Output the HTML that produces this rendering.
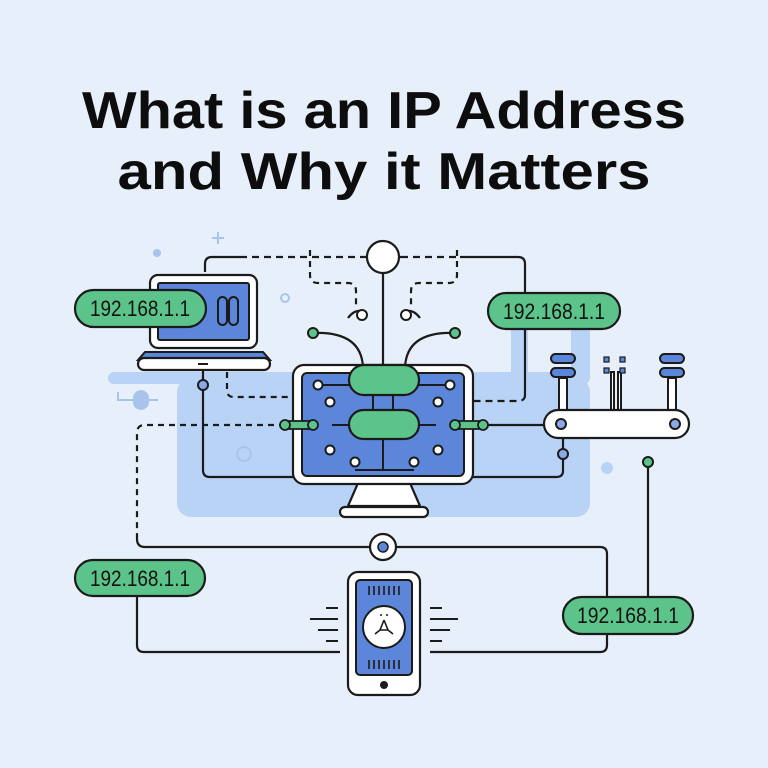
<!DOCTYPE html>
<html><head><meta charset="utf-8"><style>
html,body{margin:0;padding:0;background:#e7f0fa}
svg{display:block}
text{font-family:"Liberation Sans",sans-serif}
</style></head><body>
<svg width="768" height="768" viewBox="0 0 768 768" xmlns="http://www.w3.org/2000/svg">
<rect width="768" height="768" fill="#e7f0fa"/>
<text x="384" y="128" text-anchor="middle" font-size="52" font-weight="bold" fill="#0d0d0d" textLength="604" lengthAdjust="spacingAndGlyphs">What is an IP Address</text>
<text x="384" y="189" text-anchor="middle" font-size="52" font-weight="bold" fill="#0d0d0d" textLength="533" lengthAdjust="spacingAndGlyphs">and Why it Matters</text>

<!-- light blue background shapes -->
<rect x="108" y="372" width="482" height="12" rx="6" fill="#b9d3f6"/>
<rect x="177" y="378" width="413" height="139" rx="14" fill="#b9d3f6"/>
<rect x="511" y="330" width="17" height="48" fill="#b9d3f6"/>
<rect x="571" y="330" width="19" height="48" fill="#b9d3f6"/>
<circle cx="607" cy="468" r="6" fill="#b9d3f6"/>
<circle cx="157" cy="253" r="4" fill="#a9c4ec"/>
<circle cx="285" cy="298" r="4" fill="none" stroke="#a9c4ec" stroke-width="2"/>
<path d="M218 232v12M212 238h12" stroke="#a9c4ec" stroke-width="2"/>
<rect x="133" y="390" width="16" height="20" rx="8" fill="#a9c4ec"/>
<path d="M118 392v8h40" stroke="#a9c4ec" stroke-width="2" fill="none"/>
<circle cx="244" cy="454" r="7" fill="none" stroke="#a9c4ec" stroke-width="2"/>

<g fill="none" stroke="#1b1b1b" stroke-width="2.2">
<!-- top line -->
<path d="M205 272v-8q0-7 7-7h28"/>
<path d="M240 257h125" stroke-dasharray="7 5"/>
<path d="M365 257h36"/>
<path d="M401 257h59" stroke-dasharray="7 5"/>
<path d="M460 257h58q7 0 7 7v131"/>
<path d="M525 395q0 6-7 6h-46" stroke-dasharray="7 5"/>
<!-- dashed loops -->
<path d="M310 250v25q0 8 8 8h30q8 0 8 8v14" stroke-dasharray="6 5"/>
<path d="M457 250v25q0 8-8 8h-30q-8 0-8 8v14" stroke-dasharray="6 5"/>
<path d="M348 318q7-10 17-6M420 318q-7-10-17-6"/>
<!-- center vertical -->
<path d="M383 273v92"/>
<path d="M313 333q48-2 50 34M455 333q-48-2-50 34"/>
<!-- laptop lines -->
<path d="M203 370v100q0 7 7 7h85"/>
<path d="M227 372v18q0 7 7 7h56" stroke-dasharray="6 5"/>
<path d="M285 425h-140q-8 0-8 8v102" stroke-dasharray="6 5"/>
<path d="M137 535v4q0 8 8 8h225M396 547h204q7 0 7 7v91q0 7-7 7h-170"/>
<path d="M137 595v50q0 7 7 7h196"/>
<!-- router lines -->
<path d="M483 425h61"/>
<path d="M563 438v33q0 6-7 6h-83"/>
<path d="M648 462v135"/>
</g>

<!-- laptop -->
<rect x="150" y="275" width="107" height="73" rx="8" fill="#fff" stroke="#1b1b1b" stroke-width="2.2"/>
<rect x="158" y="283" width="91" height="57" rx="2" fill="#5b86d9" stroke="#1b1b1b" stroke-width="2"/>
<rect x="218" y="297" width="9" height="28" rx="4.5" fill="none" stroke="#1b1b1b" stroke-width="2"/>
<rect x="229" y="297" width="9" height="28" rx="4.5" fill="none" stroke="#1b1b1b" stroke-width="2"/>
<path d="M145 352h118l7 8h-132z" fill="#5b86d9" stroke="#1b1b1b" stroke-width="2"/>
<rect x="138" y="358" width="132" height="12" rx="6" fill="#fff" stroke="#1b1b1b" stroke-width="2.2"/>
<path d="M198 364h10" stroke="#1b1b1b" stroke-width="2"/>
<circle cx="203" cy="385" r="5" fill="#8aa9e6" stroke="#1b1b1b" stroke-width="2"/>

<!-- top circle -->
<circle cx="383" cy="257" r="16" fill="#fff" stroke="#1b1b1b" stroke-width="2.2"/>
<circle cx="362" cy="315" r="5" fill="#fff" stroke="#1b1b1b" stroke-width="2"/>
<circle cx="406" cy="315" r="5" fill="#fff" stroke="#1b1b1b" stroke-width="2"/>
<circle cx="313" cy="333" r="5" fill="#5cc48a" stroke="#1b1b1b" stroke-width="2"/>
<circle cx="455" cy="333" r="5" fill="#5cc48a" stroke="#1b1b1b" stroke-width="2"/>

<!-- monitor -->
<path d="M358 483h52l10 23h-72z" fill="#fff" stroke="#1b1b1b" stroke-width="2.2"/>
<rect x="340" y="507" width="88" height="10" rx="5" fill="#fff" stroke="#1b1b1b" stroke-width="2.2"/>
<rect x="293" y="365" width="180" height="119" rx="11" fill="#fff" stroke="#1b1b1b" stroke-width="2.2"/>
<rect x="302" y="373" width="162" height="103" rx="5" fill="#5b86d9" stroke="#1b1b1b" stroke-width="2"/>
<g stroke="#1b1b1b" stroke-width="2" fill="none">
<path d="M318 385h32M418 385h32M373 395v15M393 395v15M332 425h16M420 425h16M383 438v32M355 470h59"/>
</g>
<rect x="349" y="365" width="70" height="30" rx="15" fill="#5cc48a" stroke="#1b1b1b" stroke-width="2.2"/>
<rect x="349" y="410" width="70" height="29" rx="14.5" fill="#5cc48a" stroke="#1b1b1b" stroke-width="2.2"/>
<g fill="#fff" stroke="#1b1b1b" stroke-width="2">
<circle cx="318" cy="385" r="4.5"/><circle cx="450" cy="385" r="4.5"/>
<circle cx="330" cy="402" r="4.5"/><circle cx="438" cy="402" r="4.5"/>
<circle cx="330" cy="450" r="4.5"/><circle cx="438" cy="450" r="4.5"/>
<circle cx="355" cy="462" r="4.5"/><circle cx="414" cy="462" r="4.5"/>
</g>
<!-- side connectors -->
<rect x="285" y="421" width="28" height="8" rx="4" fill="#5cc48a" stroke="#1b1b1b" stroke-width="1.8"/>
<circle cx="285" cy="425" r="5" fill="#5cc48a" stroke="#1b1b1b" stroke-width="1.8"/>
<circle cx="313" cy="425" r="5" fill="#5cc48a" stroke="#1b1b1b" stroke-width="1.8"/>
<rect x="455" y="421" width="28" height="8" rx="4" fill="#5cc48a" stroke="#1b1b1b" stroke-width="1.8"/>
<circle cx="455" cy="425" r="5" fill="#5cc48a" stroke="#1b1b1b" stroke-width="1.8"/>
<circle cx="483" cy="425" r="5" fill="#5cc48a" stroke="#1b1b1b" stroke-width="1.8"/>

<!-- router -->
<g stroke="#1b1b1b" stroke-width="2">
<rect x="559" y="378" width="8" height="34" fill="#fff"/>
<rect x="668" y="378" width="8" height="34" fill="#fff"/>
<rect x="611" y="372" width="3" height="40" fill="#fff"/>
<rect x="618" y="372" width="3" height="40" fill="#fff"/>
<rect x="551" y="354" width="24" height="9" rx="4.5" fill="#5b86d9"/>
<rect x="551" y="368" width="24" height="9" rx="4.5" fill="#5b86d9"/>
<rect x="660" y="354" width="24" height="9" rx="4.5" fill="#5b86d9"/>
<rect x="660" y="368" width="24" height="9" rx="4.5" fill="#5b86d9"/>
<rect x="604" y="357" width="5" height="5" fill="#5b86d9" stroke-width="1.2"/>
<rect x="620" y="357" width="5" height="5" fill="#5b86d9" stroke-width="1.2"/>
<rect x="604" y="368" width="5" height="5" fill="#5b86d9" stroke-width="1.2"/>
<rect x="620" y="368" width="5" height="5" fill="#5b86d9" stroke-width="1.2"/>
<rect x="544" y="410" width="145" height="28" rx="14" fill="#fff" stroke-width="2.2"/>
<circle cx="561" cy="424" r="5" fill="#8aa9e6"/>
<circle cx="675" cy="424" r="5" fill="#8aa9e6"/>
<circle cx="563" cy="454" r="5" fill="#8aa9e6"/>
<circle cx="648" cy="462" r="5" fill="#5cc48a"/>
</g>

<!-- bottom circle -->
<circle cx="383" cy="547" r="13" fill="#fff" stroke="#1b1b1b" stroke-width="2.2"/>
<circle cx="383" cy="547" r="5" fill="#5b86d9" stroke="#1b1b1b" stroke-width="1.5"/>

<!-- phone -->
<g stroke="#1b1b1b" stroke-width="2">
<path d="M326 608h12M310 619h28M318 630h20M326 641h12M430 608h12M430 619h28M430 630h20M430 641h12"/>
</g>
<rect x="348" y="572" width="72" height="123" rx="10" fill="#fff" stroke="#1b1b1b" stroke-width="2.2"/>
<rect x="356" y="580" width="56" height="95" rx="4" fill="#5b86d9" stroke="#1b1b1b" stroke-width="2"/>
<g stroke="#1b1b1b" stroke-width="1.6">
<path d="M369 586v9M374 586v9M379 586v9M384 586v9M389 586v9M394 586v9M399 586v9M369 660v9M374 660v9M379 660v9M384 660v9M389 660v9M394 660v9M399 660v9"/>
</g>
<circle cx="384" cy="627" r="21" fill="#fff" stroke="#1b1b1b" stroke-width="2"/>
<path d="M384 620l-4 10l-5 4M384 620l4 10l5 4M380 630h8" fill="none" stroke="#1b1b1b" stroke-width="1.6"/>
<circle cx="381" cy="615" r="1" fill="#1b1b1b"/><circle cx="387" cy="615" r="1" fill="#1b1b1b"/>
<circle cx="384" cy="685" r="4" fill="#1b1b1b"/>

<!-- pills -->
<g stroke="#1b1b1b" stroke-width="2.2" fill="#5cc48a">
<rect x="75" y="290" width="131" height="37" rx="18.5"/>
<rect x="488" y="293" width="132" height="36" rx="18"/>
<rect x="75" y="560" width="130" height="36" rx="18"/>
<rect x="563" y="597" width="130" height="37" rx="18.5"/>
</g>
<g font-size="22" fill="#111" text-anchor="middle">
<text x="140" y="316" textLength="100" lengthAdjust="spacingAndGlyphs">192.168.1.1</text>
<text x="554" y="319" textLength="102" lengthAdjust="spacingAndGlyphs">192.168.1.1</text>
<text x="140" y="586" textLength="100" lengthAdjust="spacingAndGlyphs">192.168.1.1</text>
<text x="628" y="623" textLength="102" lengthAdjust="spacingAndGlyphs">192.168.1.1</text>
</g>
</svg>
</body></html>
